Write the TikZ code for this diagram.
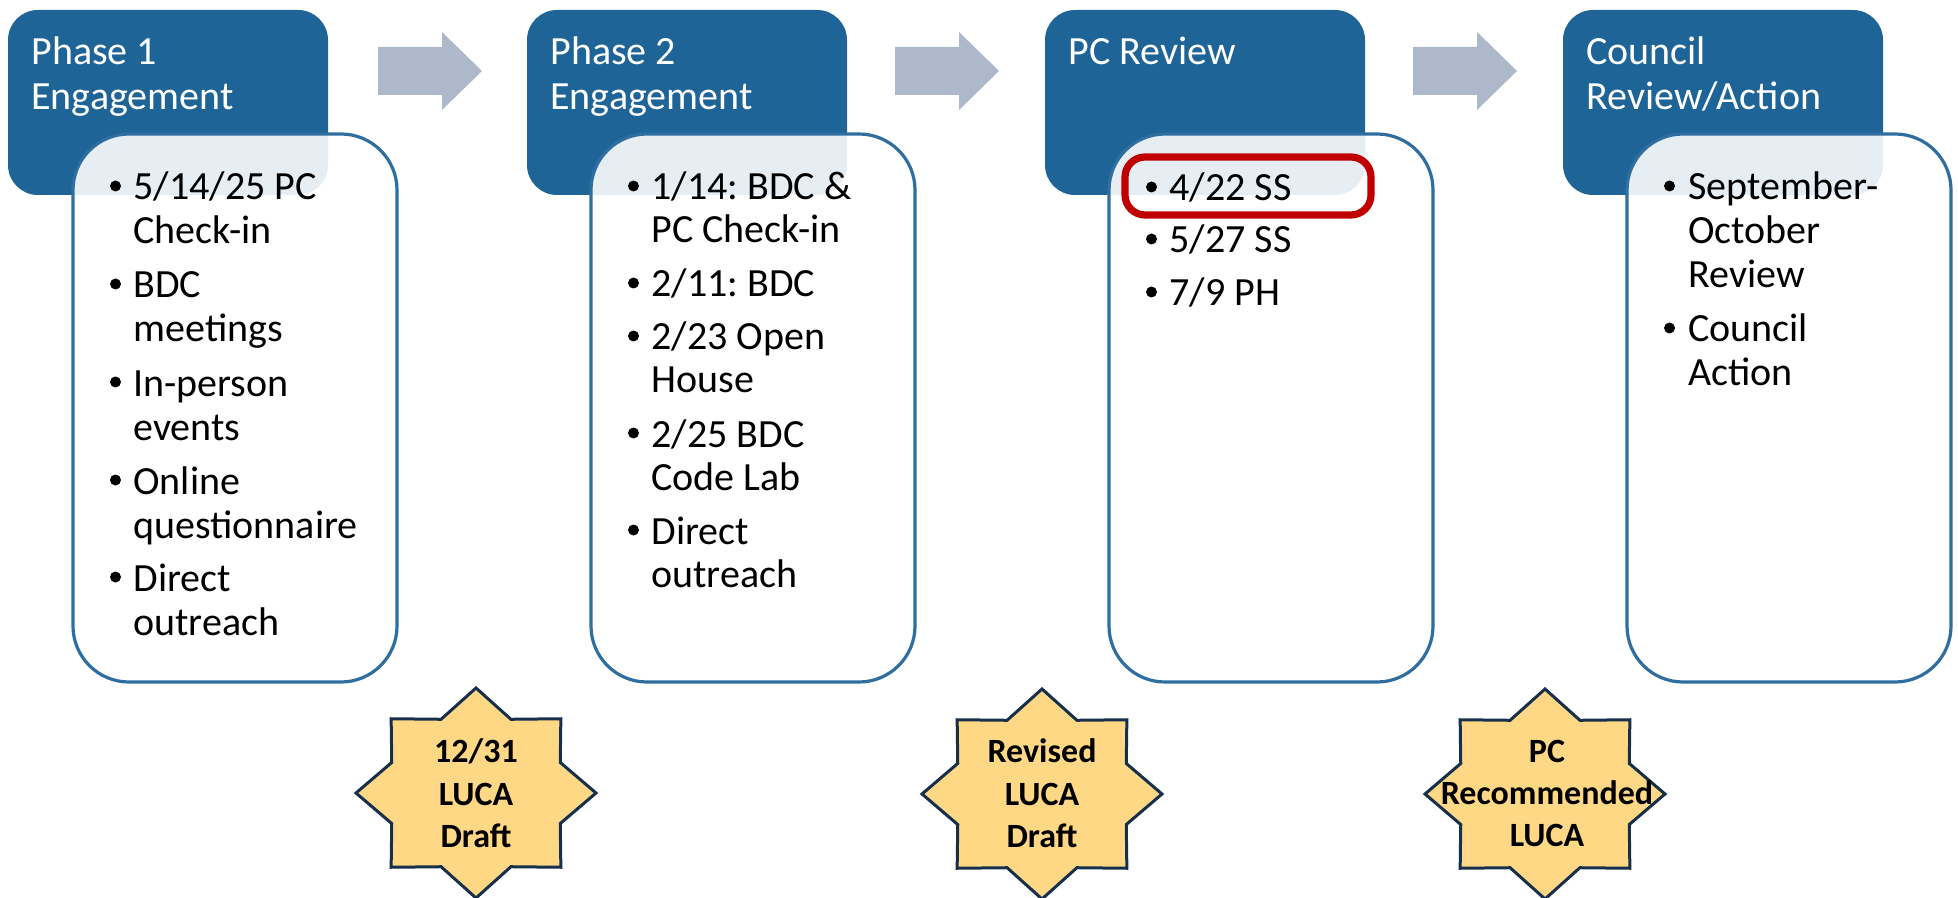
\documentclass[tikz,border=0pt]{standalone}
\usepackage{fontspec}
\setmainfont{Carlito}
\frenchspacing
\definecolor{hdrblue}{RGB}{31,100,150}
\definecolor{boxline}{RGB}{46,110,160}
\definecolor{arrowgray}{RGB}{173,185,202}
\definecolor{starfill}{RGB}{255,216,134}
\definecolor{starline}{RGB}{22,48,76}
\definecolor{hlred}{RGB}{192,0,0}
\tikzset{
  hdrbox/.style={fill=hdrblue, rounded corners=15},
  bodybox/.style={draw=boxline, line width=1.6pt, fill=white, fill opacity=0.89, rounded corners=28},
  hdrtxt/.style={text=white, font=\fontsize{20}{22}\selectfont, inner sep=0pt, anchor=base west},
  bodytxt/.style={text=black, font=\fontsize{20}{22}\selectfont, inner sep=0pt, anchor=base west},
  bulletdot/.style={fill=black},
  blockarrow/.style={fill=arrowgray},
  starsty/.style={fill=starfill, draw=starline, line width=1.5pt, line join=miter},
  startxt/.style={text=black, font=\bfseries\fontsize{17}{20}\selectfont, inner sep=0pt, anchor=base},
  hlbox/.style={draw=hlred, line width=3.6pt, rounded corners=10}
}
\newcommand{\bulletat}[2]{\fill[bulletdot] (#1+42.5,#2-14) circle[radius=5.5];}
\newcommand{\starat}[2]{%
  \draw[starsty] plot[samples at={0,1,...,15}]
    ({#1+120*(1-0.24*mod(\x,2))*cos(22.5*\x)}, {#2+105*(1-0.24*mod(\x,2))*sin(22.5*\x)}) -- cycle;}
\begin{document}
\begin{tikzpicture}[x=0.5pt,y=-0.5pt]
\useasboundingbox (0,0) rectangle (1958,898);

% header boxes
\foreach \xx in {8,527,1045,1563}{
  \fill[hdrbox] (\xx,10) rectangle ++(320,185);
}
% block arrows
\foreach \dx in {0,517,1035}{
  \fill[blockarrow] (378+\dx,47) -- (442+\dx,47) -- (442+\dx,32) -- (482+\dx,71)
     -- (442+\dx,110) -- (442+\dx,95) -- (378+\dx,95) -- cycle;
}
% body boxes
\foreach \xx in {73,591,1109,1627}{
  \draw[bodybox] (\xx,134) rectangle ++(324,548);
}

% header texts
\node[hdrtxt] (t1a) at (31,65) {Phase 1};
\node[hdrtxt] (t1b) at (31,110) {Engagement};
\node[hdrtxt] (t2a) at (550,65) {Phase 2};
\node[hdrtxt] (t2b) at (550,110) {Engagement};
\node[hdrtxt] (t3a) at (1068,65) {PC Review};
\node[hdrtxt] (t4a) at (1586,65) {Council};
\node[hdrtxt] (t4b) at (1586,110) {Review/Action};

% box 1
\bulletat{73}{200}\node[bodytxt] (b1a) at (133,200) {5/14/25 PC};
\node[bodytxt] (b1b) at (133,244) {Check-in};
\bulletat{73}{298}\node[bodytxt] (b1c) at (133,298) {BDC};
\node[bodytxt] (b1d) at (133,342) {meetings};
\bulletat{73}{396}\node[bodytxt] (b1e) at (133,396) {In-person};
\node[bodytxt] (b1f) at (133,440) {events};
\bulletat{73}{494}\node[bodytxt] (b1g) at (133,494) {Online};
\node[bodytxt] (b1h) at (133,538) {questionnaire};
\bulletat{73}{591}\node[bodytxt] (b1i) at (133,591) {Direct};
\node[bodytxt] (b1j) at (133,635) {outreach};

% box 2
\bulletat{591}{200}\node[bodytxt] (b2a) at (651,200) {1/14: BDC \&};
\node[bodytxt] (b2b) at (651,243) {PC Check-in};
\bulletat{591}{297}\node[bodytxt] (b2c) at (651,297) {2/11: BDC};
\bulletat{591}{350}\node[bodytxt] (b2d) at (651,350) {2/23 Open};
\node[bodytxt] (b2e) at (651,393) {House};
\bulletat{591}{447}\node[bodytxt] (b2f) at (651,447) {2/25 BDC};
\node[bodytxt] (b2g) at (651,490) {Code Lab};
\bulletat{591}{544}\node[bodytxt] (b2h) at (651,544) {Direct};
\node[bodytxt] (b2i) at (651,587) {outreach};

% box 3
\bulletat{1109}{201}\node[bodytxt] (b3a) at (1169,201) {4/22 SS};
\bulletat{1109}{253}\node[bodytxt] (b3b) at (1169,253) {5/27 SS};
\bulletat{1109}{306}\node[bodytxt] (b3c) at (1169,306) {7/9 PH};

% box 4
\bulletat{1627}{200}\node[bodytxt] (b4a) at (1688,200) {September-};
\node[bodytxt] (b4b) at (1688,244) {October};
\node[bodytxt] (b4c) at (1688,288) {Review};
\bulletat{1627}{342}\node[bodytxt] (b4d) at (1688,342) {Council};
\node[bodytxt] (b4e) at (1688,386) {Action};

% highlight
\draw[hlbox] (1125,157) rectangle (1371,215);

% stars
\starat{476}{793}
\starat{1042}{794}
\starat{1545}{794}
\node[startxt] (st1a) at (476,762) {12/31};
\node[startxt] (st1b) at (476,805) {LUCA};
\node[startxt] (st1c) at (476,847) {Draft};
\node[startxt] (st2a) at (1042,762) {Revised};
\node[startxt] (st2b) at (1042,805) {LUCA};
\node[startxt] (st2c) at (1042,847) {Draft};
\node[startxt] (st3a) at (1547,762) {PC};
\node[startxt] (st3b) at (1547,804) {Recommended};
\node[startxt] (st3c) at (1547,846) {LUCA};
\end{tikzpicture}
\end{document}
